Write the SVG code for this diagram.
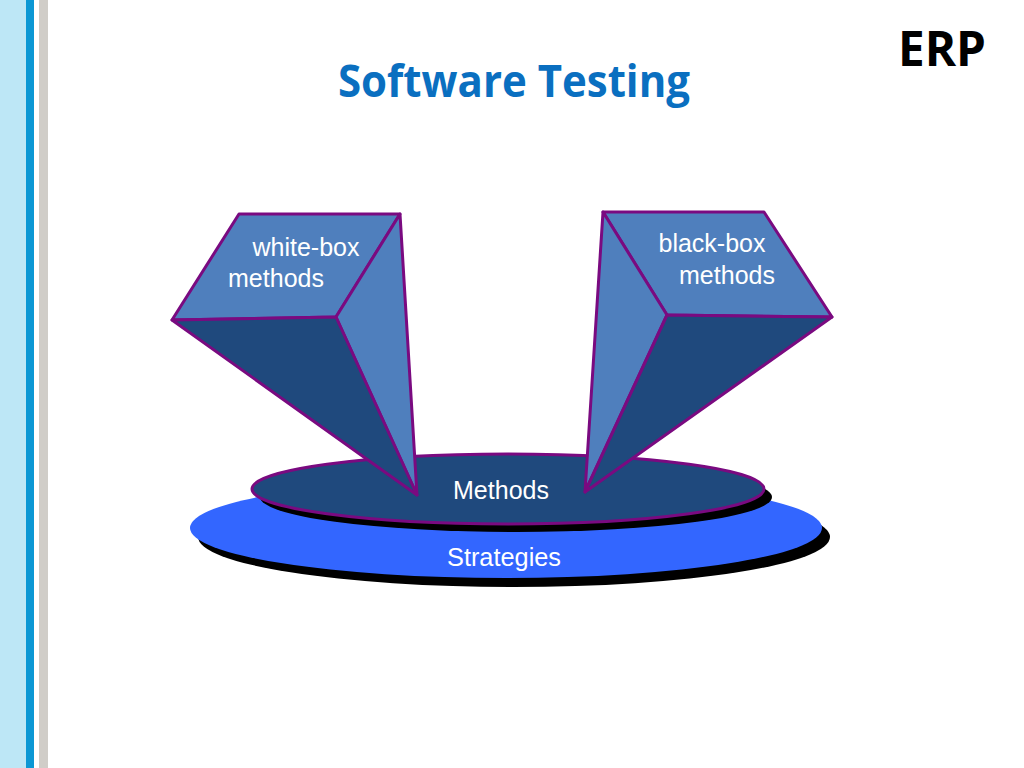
<svg xmlns="http://www.w3.org/2000/svg" width="1024" height="768" viewBox="0 0 1024 768">
<defs>
<style>
.top{fill:#4f7fbd;stroke:#7a0a80;stroke-width:3;stroke-linejoin:round}
.side{fill:#4f7fbd;stroke:#7a0a80;stroke-width:3;stroke-linejoin:round}
.front{fill:#1f497d;stroke:#7a0a80;stroke-width:3;stroke-linejoin:round}
.lbl{font-family:"Liberation Sans",Arial,sans-serif;font-size:25px;fill:#ffffff}
</style>
</defs>
<rect width="1024" height="768" fill="#ffffff"/>
<g id="sidebar">
<rect x="0" y="0" width="26" height="768" fill="#bde7f6"/>
<rect x="26" y="0" width="8" height="768" fill="#0b97d4"/>
<rect x="39" y="0" width="9" height="768" fill="#d0cdc8"/>
</g>
<text x="514" y="97" text-anchor="middle" font-family="'Open Sans',sans-serif" font-weight="bold" font-size="44" fill="#0a6fc0" textLength="352" lengthAdjust="spacingAndGlyphs">Software Testing</text>
<text x="942" y="66" text-anchor="middle" font-family="'Open Sans',sans-serif" font-weight="bold" font-size="48" fill="#000000" textLength="88" lengthAdjust="spacingAndGlyphs">ERP</text>
<g id="strategies">
<ellipse cx="514" cy="537" rx="316" ry="50" fill="#000000"/>
<ellipse cx="506" cy="528" rx="316" ry="50" fill="#3366ff"/>
<text x="504" y="566" text-anchor="middle" class="lbl" textLength="114" lengthAdjust="spacingAndGlyphs">Strategies</text>
</g>
<g id="methods">
<ellipse cx="516" cy="497" rx="256" ry="35" fill="#000000"/>
<ellipse cx="508" cy="489" rx="256" ry="35" fill="#1f497d" stroke="#7a0a80" stroke-width="3"/>
<text x="501" y="499" text-anchor="middle" class="lbl" textLength="96" lengthAdjust="spacingAndGlyphs">Methods</text>
</g>
<g id="white-box">
<polygon class="top" points="239,214 400,214 336,317 172,320"/>
<polygon class="side" points="400,214 336,317 417,495"/>
<polygon class="front" points="172,320 336,317 417,495"/>
<text x="306" y="256" text-anchor="middle" class="lbl" textLength="107" lengthAdjust="spacingAndGlyphs">white-box</text>
<text x="276" y="287" text-anchor="middle" class="lbl">methods</text>
</g>
<g id="black-box">
<polygon class="top" points="603,212 764,212 832,317 667,315"/>
<polygon class="side" points="603,212 667,315 585,492"/>
<polygon class="front" points="667,315 832,317 585,492"/>
<text x="712" y="252" text-anchor="middle" class="lbl">black-box</text>
<text x="727" y="284" text-anchor="middle" class="lbl">methods</text>
</g>
<g id="connectors"></g>
</svg>
